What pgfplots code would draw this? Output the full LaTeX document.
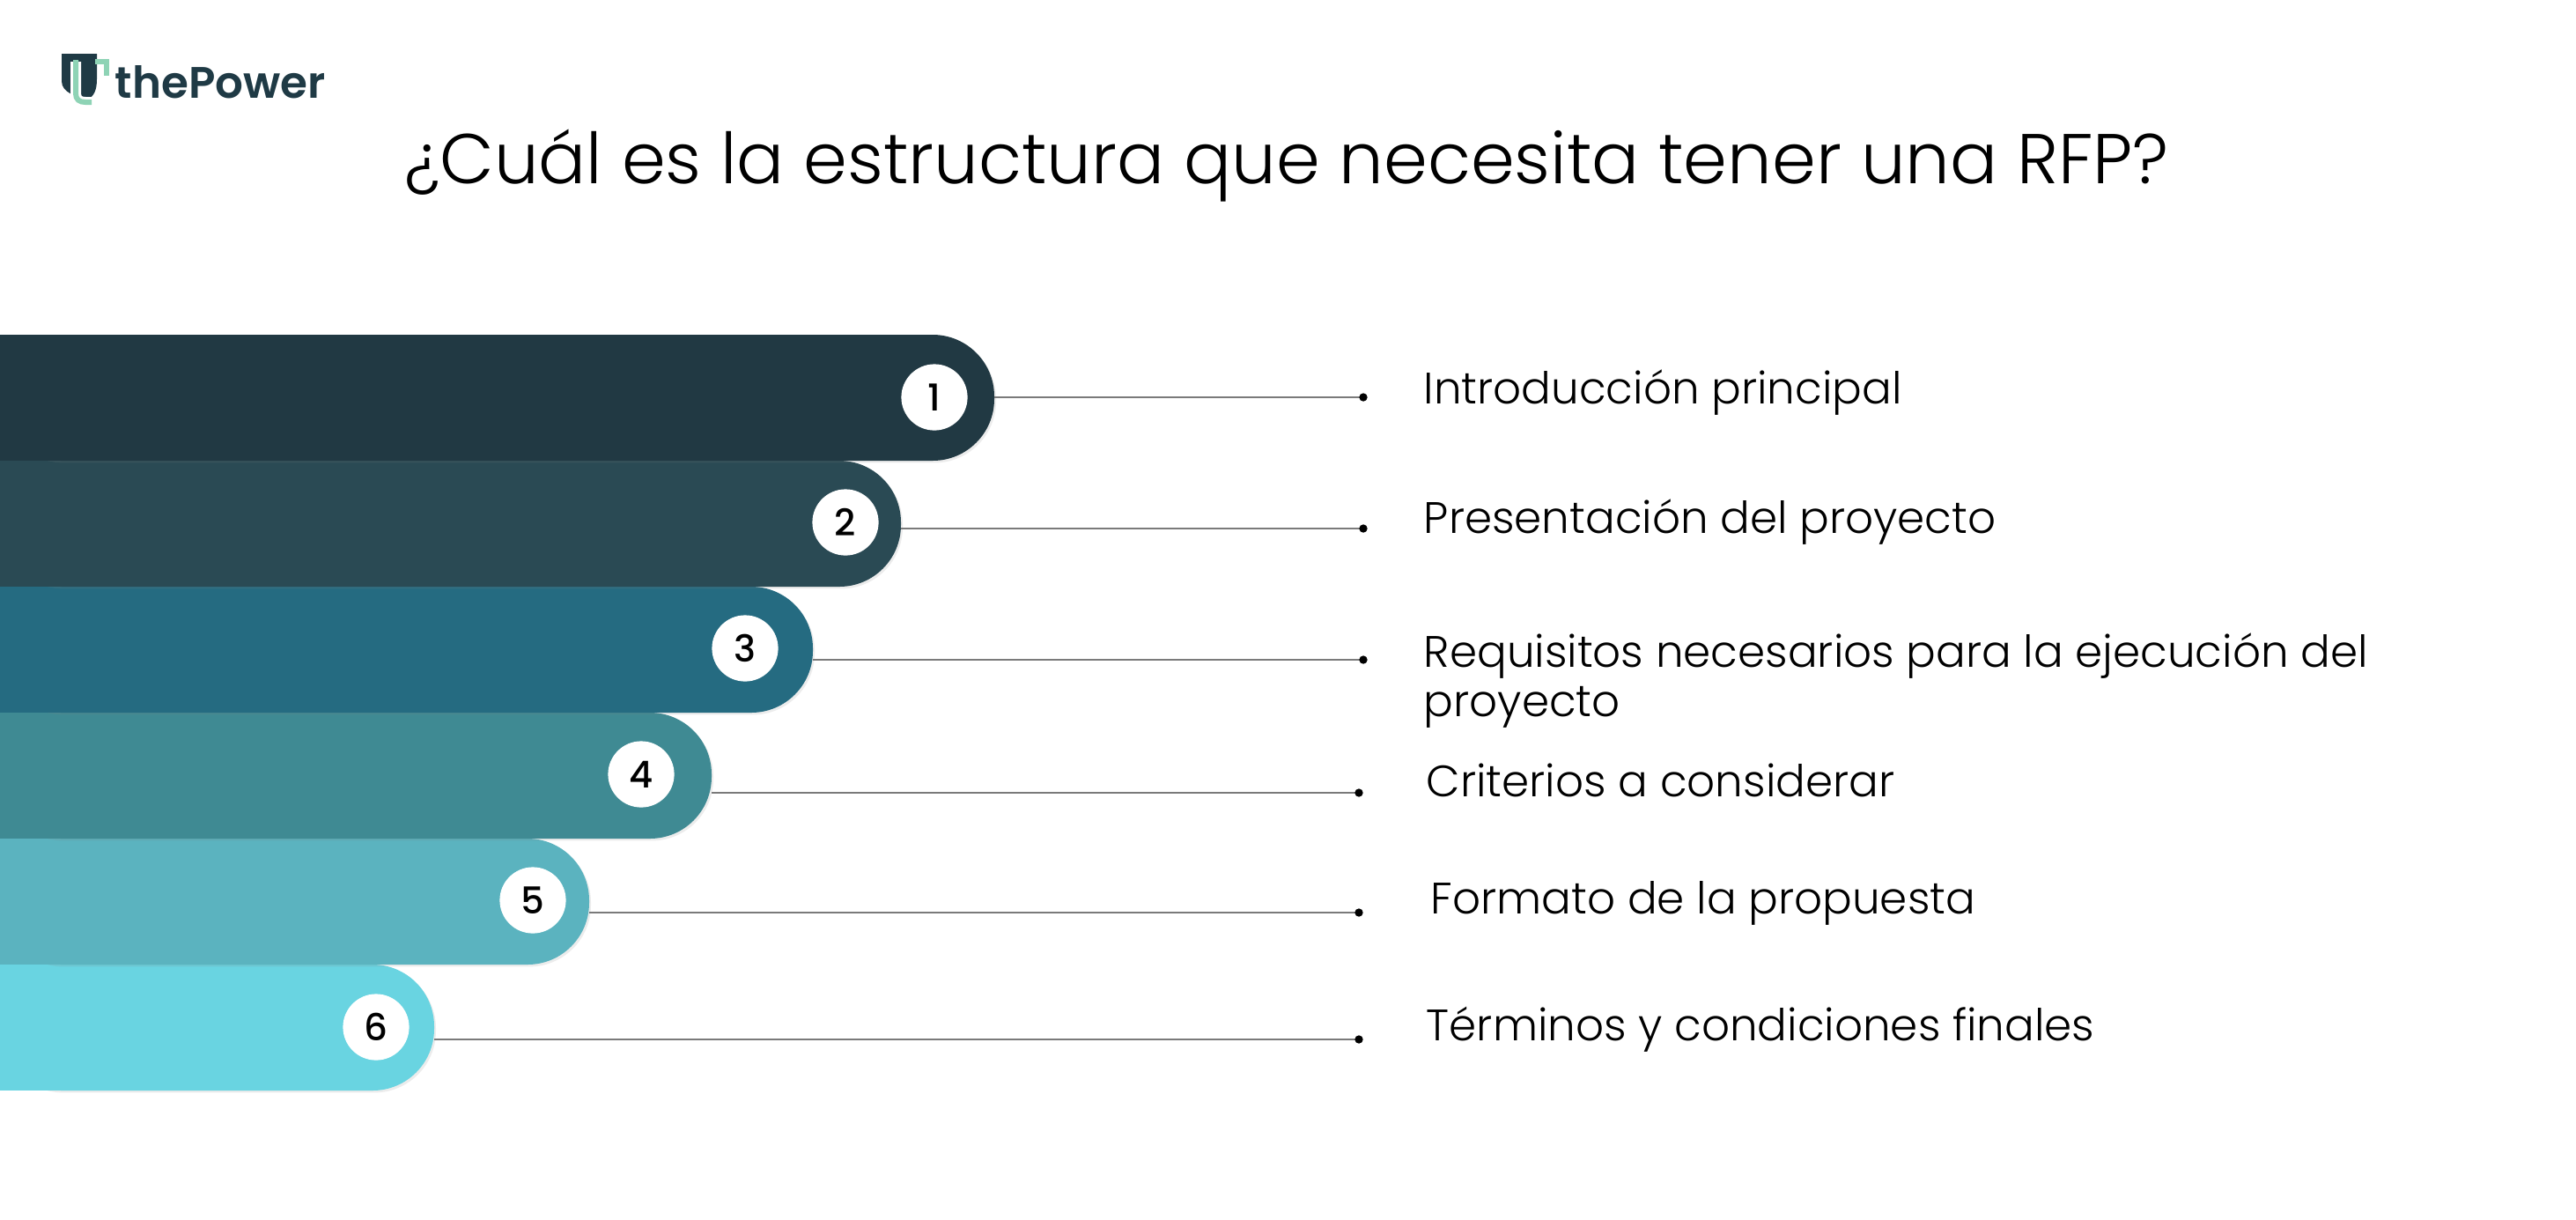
\documentclass[border=0pt]{standalone}
\usepackage{fontspec}
\setmainfont{Poppins}[UprightFont=* Light, BoldFont=* SemiBold]
\newfontfamily\pmed{Poppins Medium}
\usepackage{pgfplots}
\pgfplotsset{compat=1.18}
\usetikzlibrary{shadows}
\definecolor{c1}{HTML}{213943}
\definecolor{c2}{HTML}{2A4A54}
\definecolor{c3}{HTML}{256B81}
\definecolor{c4}{HTML}{3F8A93}
\definecolor{c5}{HTML}{5BB3BF}
\definecolor{c6}{HTML}{69D4E1}
\definecolor{logo}{HTML}{1F3A45}
\definecolor{mint}{HTML}{8ED3B5}
\definecolor{lgray}{HTML}{7A7A7A}
\begin{document}
\begin{tikzpicture}
\begin{axis}[
  width=731.25pt, height=346pt, scale only axis,
  xmin=100, xmax=3025, ymin=0, ymax=1384, y dir=reverse,
  axis lines=none, axis background/.style={fill=white},
  clip mode=individual,
  bars/.style={xbar, bar shift=0pt, bar width=143, draw=none, rounded corners=17.5pt,
    drop shadow={shadow xshift=0.5pt, shadow yshift=-0.6pt, opacity=0.15}},
  sq/.style={xbar, bar shift=0pt, bar width=143, draw=none},
  conn/.style={lgray, line width=0.5pt, mark=*, mark size=0.9pt, mark indices={2},
    mark options={fill=black, draw=black}},
]
\path (axis cs:100,0) rectangle (axis cs:3025,1384);
% bars: value = right end of the bar
\addplot[bars, fill=c6] coordinates {(593,1166.5)};
\addplot[sq, fill=c6] coordinates {(443,1166.5)};
\addplot[bars, fill=c5] coordinates {(769,1023.5)};
\addplot[sq, fill=c5] coordinates {(619,1023.5)};
\addplot[bars, fill=c4] coordinates {(908,880.5)};
\addplot[sq, fill=c4] coordinates {(758,880.5)};
\addplot[bars, fill=c3] coordinates {(1023,737.5)};
\addplot[sq, fill=c3] coordinates {(873,737.5)};
\addplot[bars, fill=c2] coordinates {(1123,594.5)};
\addplot[sq, fill=c2] coordinates {(973,594.5)};
\addplot[bars, fill=c1] coordinates {(1229,451.5)};
\addplot[sq, fill=c1] coordinates {(1079,451.5)};
% connectors
\addplot[conn] coordinates {(1229,451) (1648,451)};
\addplot[conn] coordinates {(1123,600) (1648,600)};
\addplot[conn] coordinates {(1023,749) (1648,749)};
\addplot[conn] coordinates {(908,900) (1643,900)};
\addplot[conn] coordinates {(769,1036) (1643,1036)};
\addplot[conn] coordinates {(593,1180) (1643,1180)};
% number circles
\addplot[white, only marks, mark=*, mark size=9.2pt, mark options={fill=white, draw=white},
  point meta=explicit symbolic, nodes near coords,
  every node near coord/.append style={anchor=center, inner sep=0pt,
    font=\pmed\fontsize{10.5}{12}\selectfont, text=black}]
  coordinates {(1161,451) [1] (1060,593) [2] (946,736) [3] (828,879) [4] (705,1022) [5] (527,1166) [6]};
% title
\node[anchor=base, inner sep=0pt, font=\fontsize{20}{24}\selectfont] at (axis cs:1561,208)
  {¿Cuál es la estructura que necesita tener una RFP?};
% labels
\begin{scope}[every node/.style={anchor=base west, inner sep=0pt, font=\fontsize{12.5}{15}\selectfont}]
\node at (axis cs:1716,458) {Introducción principal};
\node at (axis cs:1716,605) {Presentación del proyecto};
\node at (axis cs:1716,757) {Requisitos necesarios para la ejecución del};
\node at (axis cs:1716,813) {proyecto};
\node at (axis cs:1719,904) {Criterios a considerar};
\node at (axis cs:1724,1037) {Formato de la propuesta};
\node at (axis cs:1719,1181) {Términos y condiciones finales};
\end{scope}
% logo
\fill[logo] (axis cs:170,61) -- (axis cs:210,61) -- (axis cs:210,90)
  .. controls (axis cs:210,103) and (axis cs:206,110) .. (axis cs:200,112)
  .. controls (axis cs:186,110) and (axis cs:170,105) .. (axis cs:170,92) -- cycle;
\draw[white, line width=3pt] (axis cs:186,70) -- (axis cs:186,106)
  .. controls (axis cs:186,113) and (axis cs:190,116) .. (axis cs:197,116) -- (axis cs:204,116);
\draw[mint, line width=1.5pt] (axis cs:186,68) -- (axis cs:186,106)
  .. controls (axis cs:186,113) and (axis cs:190,116) .. (axis cs:197,116) -- (axis cs:204,116);
\draw[mint, line width=1.5pt] (axis cs:208,70) -- (axis cs:221,70) -- (axis cs:221,86);
\node[anchor=base west, inner sep=0pt, font=\bfseries\fontsize{12.5}{15}\selectfont, text=logo]
  at (axis cs:230,111) {thePower};
\end{axis}
\end{tikzpicture}
\end{document}
